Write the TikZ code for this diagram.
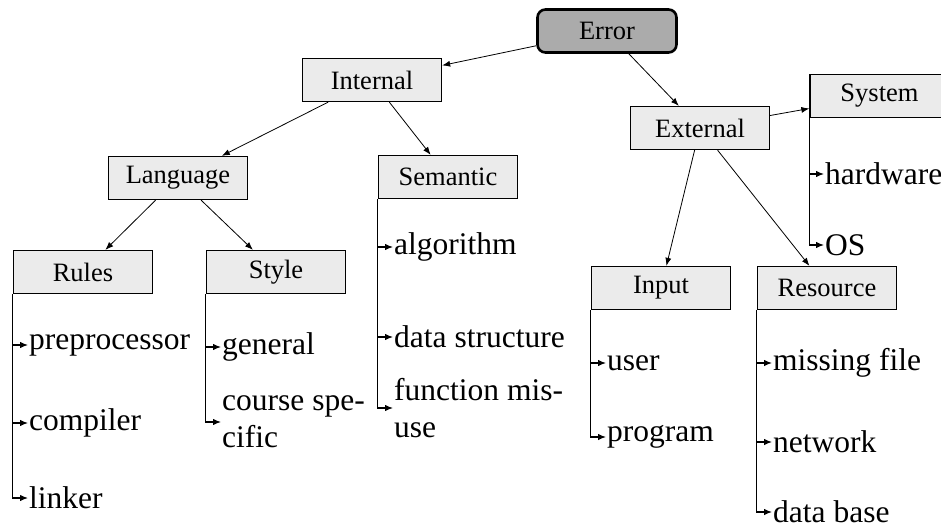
\documentclass[tikz,border=0pt]{standalone}
\usepackage{fontspec}
\setmainfont{Liberation Serif}
\usetikzlibrary{arrows.meta}
\definecolor{boxfill}{HTML}{EBEBEB}
\definecolor{rootfill}{HTML}{ABABAB}
\tikzset{
  box/.style={draw, line width=1.3pt, fill=boxfill, minimum width=139pt, minimum height=43pt, inner sep=2pt, font=\fontsize{26.5}{32}\selectfont},
  rootbox/.style={box, fill=rootfill, rounded corners=8pt, line width=2.6pt},
  leaf/.style={anchor=west, inner sep=1pt, align=left, font=\fontsize{31.5}{37}\selectfont},
  conn/.style={line width=0.8pt, -{Latex[length=8pt,width=6pt]}},
  leafconn/.style={line width=1.2pt, -{Latex[length=8pt,width=6.5pt]}}
}
\begin{document}
\begin{tikzpicture}[x=1pt,y=1pt]
\useasboundingbox (0,0) rectangle (941,-529);
% boxes
\node[rootbox] (err) at (607,-31) {Error};
\node[box] (int) at (372,-80) {Internal};
\node[box] (ext) at (700,-128) {External};
\node[box] (sys) at (879.5,-96) {System};
\node[box] (lang) at (178,-178) {Language};
\node[box] (sem) at (448,-177) {Semantic};
\node[box] (rules) at (83,-272) {Rules};
\node[box] (style) at (276,-272) {Style};
\node[box] (inp) at (661,-288) {Input};
\node[box] (res) at (827,-288) {Resource};
% tree connectors
\draw[conn] (err) -- (int);
\draw[conn] (err) -- (ext);
\draw[conn] (int) -- (lang);
\draw[conn] (int) -- (sem);
\draw[conn] (lang) -- (rules);
\draw[conn] (lang) -- (style);
\draw[conn] (ext) -- (sys);
\draw[conn] (ext) -- (inp);
\draw[conn] (ext) -- (res);
% leaves: Rules
\node[leaf] (pre) at (28,-345) {preprocessor};
\node[leaf] (comp) at (28,-423) {compiler};
\node[leaf] (link) at (28,-498) {linker};
\foreach \n in {pre,comp,link} \draw[leafconn] (rules.south west) |- (\n.west);
% leaves: Style
\node[leaf] (gen) at (221,-347) {general};
\node[leaf] (course) at (221,-422) {course spe-\\cific};
\foreach \n in {gen,course} \draw[leafconn] (style.south west) |- (\n.west);
% leaves: Semantic
\node[leaf] (algo) at (393,-247) {algorithm};
\node[leaf] (data) at (393,-337) {data structure};
\node[leaf] (func) at (393,-408) {function mis-\\use};
\foreach \n in {algo,data,func} \draw[leafconn] (sem.south west) |- (\n.west);
% leaves: System
\node[leaf] (hw) at (824,-174) {hardware};
\node[leaf] (os) at (824,-245) {OS};
\foreach \n in {hw,os} \draw[leafconn] (sys.south west) |- (\n.west);
% leaves: Input
\node[leaf] (user) at (606,-363) {user};
\node[leaf] (prog) at (606,-437) {program};
\foreach \n in {user,prog} \draw[leafconn] (inp.south west) |- (\n.west);
% leaves: Resource
\node[leaf] (miss) at (772,-363) {missing file};
\node[leaf] (net) at (772,-442) {network};
\node[leaf] (db) at (772,-512) {data base};
\foreach \n in {miss,net,db} \draw[leafconn] (res.south west) |- (\n.west);
\end{tikzpicture}
\end{document}
